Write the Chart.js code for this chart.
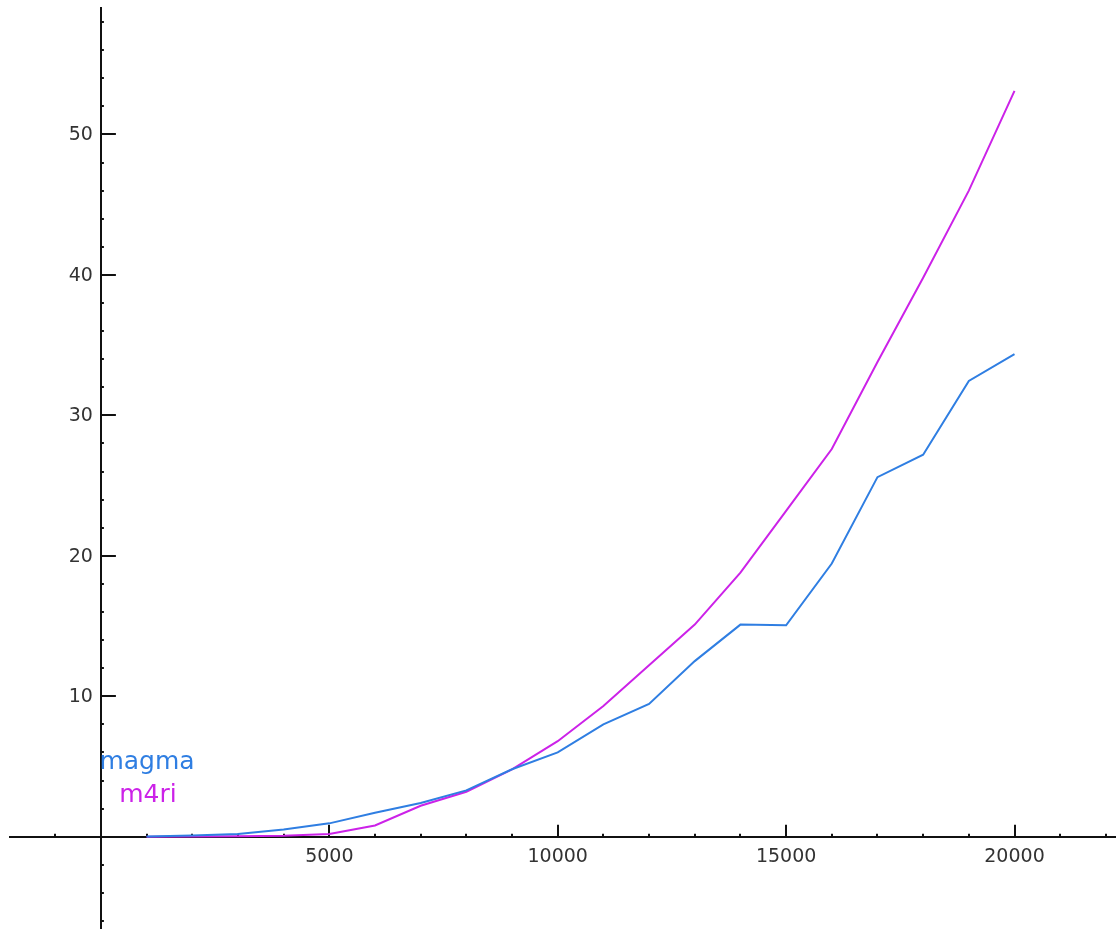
<!DOCTYPE html>
<html>
<head>
<meta charset="utf-8">
<script src="https://cdn.jsdelivr.net/npm/chart.js@4.4.1/dist/chart.umd.min.js"></script>
<style>
  html, body { margin: 0; padding: 0; background: #fff; }
  #wrap { width: 1120px; height: 930px; }
</style>
</head>
<body>
<div id="wrap"><canvas id="c" width="1120" height="930"></canvas></div>
<script>
// ---- data ----
const sizes = [1000, 2000, 3000, 4000, 5000, 6000, 7000, 8000, 9000, 10000,
               11000, 12000, 13000, 14000, 15000, 16000, 17000, 18000, 19000, 20000];
const magma = [0.01, 0.08, 0.2, 0.52, 0.95, 1.7, 2.4, 3.3, 4.8, 6.0,
               8.0, 9.45, 12.5, 15.1, 15.05, 19.45, 25.6, 27.2, 32.45, 34.35];
const m4ri  = [0.005, 0.01, 0.03, 0.06, 0.2, 0.8, 2.2, 3.2, 4.8, 6.8,
               9.3, 12.2, 15.1, 18.8, 23.2, 27.6, 33.8, 39.8, 46.0, 53.1];
const seriesNames = ['magma', 'm4ri'];
const xMajorLabels = [5000, 10000, 15000, 20000];
const yMajorLabels = [10, 20, 30, 40, 50];

const BLUE = '#2f7ee2';
const MAGENTA = '#cc22e8';
const FONT = '"DejaVu Sans", Verdana, sans-serif';

const toPts = (ys) => sizes.map((x, i) => ({ x: x, y: ys[i] }));

// tick marks and tick labels drawn through the chart's scales
const axisPlugin = {
  id: 'axisDecor',
  beforeDatasetsDraw(chart) {
    const { ctx, scales: { x, y } } = chart;
    const x0 = x.getPixelForValue(0);
    const y0 = y.getPixelForValue(0);
    ctx.save();
    ctx.strokeStyle = '#111';
    ctx.lineWidth = 2;
    ctx.beginPath();
    for (let v = -2000; v <= x.max; v += 1000) {
      if (v === 0 || v < x.min) continue;
      const px = Math.round(x.getPixelForValue(v));
      const len = (v % 5000 === 0) ? 12 : 3;
      ctx.moveTo(px, y0);
      ctx.lineTo(px, y0 - len);
    }
    for (let v = -6; v <= y.max; v += 2) {
      if (v === 0 || v < y.min) continue;
      const py = Math.round(y.getPixelForValue(v));
      const len = (v % 10 === 0) ? 15 : 3;
      ctx.moveTo(x0, py);
      ctx.lineTo(x0 + len, py);
    }
    ctx.stroke();

    ctx.fillStyle = '#333';
    ctx.font = '19px ' + FONT;
    ctx.textAlign = 'center';
    ctx.textBaseline = 'top';
    x.ticks.forEach(t => {
      if (t.label === null || t.label === undefined || t.label === '') return;
      ctx.fillText(t.label, x.getPixelForValue(t.value), y0 + 11);
    });
    ctx.textAlign = 'right';
    ctx.textBaseline = 'middle';
    y.ticks.forEach(t => {
      if (t.label === null || t.label === undefined || t.label === '') return;
      ctx.fillText(t.label, x0 - 8, y.getPixelForValue(t.value) + 1);
    });
    ctx.restore();
  },
  afterDraw(chart) {
    // legend text (series names, no swatches)
    const { ctx } = chart;
    ctx.save();
    ctx.font = '25px ' + FONT;
    ctx.textAlign = 'center';
    ctx.textBaseline = 'middle';
    const colors = [BLUE, MAGENTA];
    const pos = [[147, 762], [148, 795]];
    chart.data.datasets.forEach((ds, i) => {
      ctx.fillStyle = colors[i];
      ctx.fillText(ds.label, pos[i][0], pos[i][1]);
    });
    ctx.restore();
  }
};

new Chart(document.getElementById('c'), {
  type: 'line',
  data: {
    datasets: [
      { label: seriesNames[0], data: toPts(magma), borderColor: BLUE, borderWidth: 2,
        pointRadius: 0, tension: 0, fill: false },
      { label: seriesNames[1], data: toPts(m4ri), borderColor: MAGENTA, borderWidth: 2,
        pointRadius: 0, tension: 0, fill: false }
    ]
  },
  options: {
    responsive: false,
    animation: false,
    layout: { padding: { left: 10, right: 5, top: 8, bottom: 2 } },
    plugins: { legend: { display: false }, tooltip: { enabled: false } },
    scales: {
      x: {
        type: 'linear',
        position: { y: 0 },
        min: -1990,
        max: 22200,
        afterBuildTicks: (s) => { s.ticks = xMajorLabels.map(v => ({ value: v })); },
        afterFit: (s) => { s.height = 0; },
        grid: { display: false, drawTicks: false },
        border: { display: true, color: '#111', width: 2 },
        ticks: {
          display: false,
          autoSkip: false,
          callback: (v) => String(v)
        }
      },
      y: {
        type: 'linear',
        position: { x: 0 },
        min: -6.5,
        max: 59,
        afterBuildTicks: (s) => { s.ticks = yMajorLabels.map(v => ({ value: v })); },
        afterFit: (s) => { s.width = 0; },
        grid: { display: false, drawTicks: false },
        border: { display: true, color: '#111', width: 2 },
        ticks: {
          display: false,
          autoSkip: false,
          callback: (v) => String(v)
        }
      }
    }
  },
  plugins: [axisPlugin]
});
</script>
</body>
</html>
